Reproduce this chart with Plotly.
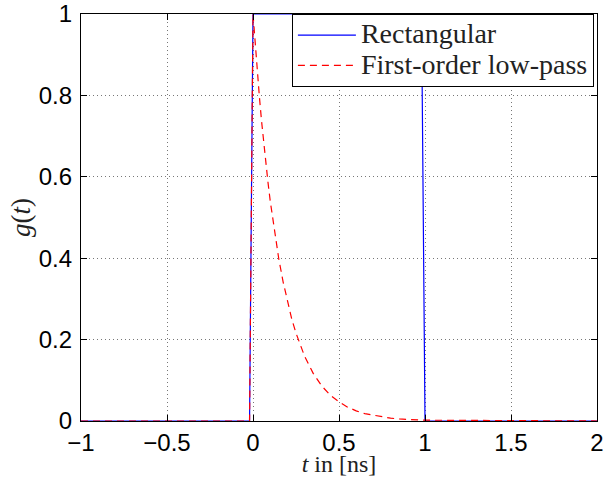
import plotly.graph_objects as go

# Rectangular pulse (sampled)
t_rect = [-1.0, -0.02, 0.0, 0.98, 1.0, 2.0]
g_rect = [0.0, 0.0, 1.0, 1.0, 0.0, 0.0]

# First-order low-pass impulse response
t_lp = [-1.0, -0.02, 0.0, 0.0125, 0.025, 0.0375, 0.05, 0.0625, 0.075, 0.0875, 0.1,
        0.125, 0.15, 0.175, 0.2, 0.225, 0.25, 0.275, 0.3, 0.35, 0.4, 0.45, 0.5,
        0.55, 0.6, 0.65, 0.7, 0.75, 0.8, 0.85, 0.9, 0.95, 1.0, 2.0]
g_lp = [0.0, 0.0, 1.0, 0.926, 0.858, 0.795, 0.736, 0.682, 0.631, 0.585, 0.541,
        0.464, 0.398, 0.342, 0.293, 0.251, 0.216, 0.185, 0.159, 0.117, 0.086, 0.063, 0.047,
        0.034, 0.025, 0.018, 0.014, 0.010, 0.007, 0.005, 0.004, 0.003, 0.002, 0.0]

x_ticks = [-1, -0.5, 0, 0.5, 1, 1.5, 2]
x_ticklabels = ["\u22121", "\u22120.5", "0", "0.5", "1", "1.5", "2"]
y_ticks = [0, 0.2, 0.4, 0.6, 0.8, 1]
y_ticklabels = ["0", "0.2", "0.4", "0.6", "0.8", "1"]
series_names = ["Rectangular", "First-order low-pass"]

serif = "Liberation Serif, Times New Roman, serif"


def big(s):
    return '<span style="font-size:28px">' + s + '</span>'


fig = go.Figure()
fig.add_trace(go.Scatter(x=t_rect, y=g_rect, mode="lines", name=big(series_names[0]),
                         line=dict(color="#0000ff", width=1.2)))
fig.add_trace(go.Scatter(x=t_lp, y=g_lp, mode="lines", name=big(series_names[1]),
                         line=dict(color="#ff0000", width=1.2, dash="7px,5px")))

axis_common = dict(
    showline=True, linecolor="black", linewidth=1.2, mirror="ticks",
    ticks="inside", ticklen=6, tickcolor="black", tickwidth=1,
    showgrid=True, gridcolor="#777777", gridwidth=1, griddash="1px,3px",
    zeroline=False, ticklabeloverflow="allow", automargin=False,
    tickfont=dict(family="Liberation Sans, Arial, sans-serif", size=24, color="black"),
)

fig.update_xaxes(range=[-1, 2], tickvals=x_ticks, ticktext=x_ticklabels,
                 title=dict(text="<i>t</i> in [ns]", standoff=6,
                            font=dict(family=serif, size=24, color="#222222")),
                 **axis_common)
fig.update_yaxes(range=[0, 1], tickvals=y_ticks, ticktext=y_ticklabels,
                 ticklabelstandoff=3,
                 title=dict(text="<i>g</i>(<i>t</i>)", standoff=0,
                            font=dict(family=serif, size=27, color="#222222")),
                 **axis_common)

fig.update_layout(
    width=604, height=477,
    margin=dict(l=81, r=7, t=14, b=56, autoexpand=False),
    paper_bgcolor="white", plot_bgcolor="white",
    showlegend=True,
    legend=dict(x=0.994, y=1.0, xanchor="right", yanchor="top",
                bgcolor="white", bordercolor="black", borderwidth=1,
                font=dict(family=serif, size=21, color="#222222"),
                tracegroupgap=0, itemwidth=58),
)

fig.write_html("out.html")
